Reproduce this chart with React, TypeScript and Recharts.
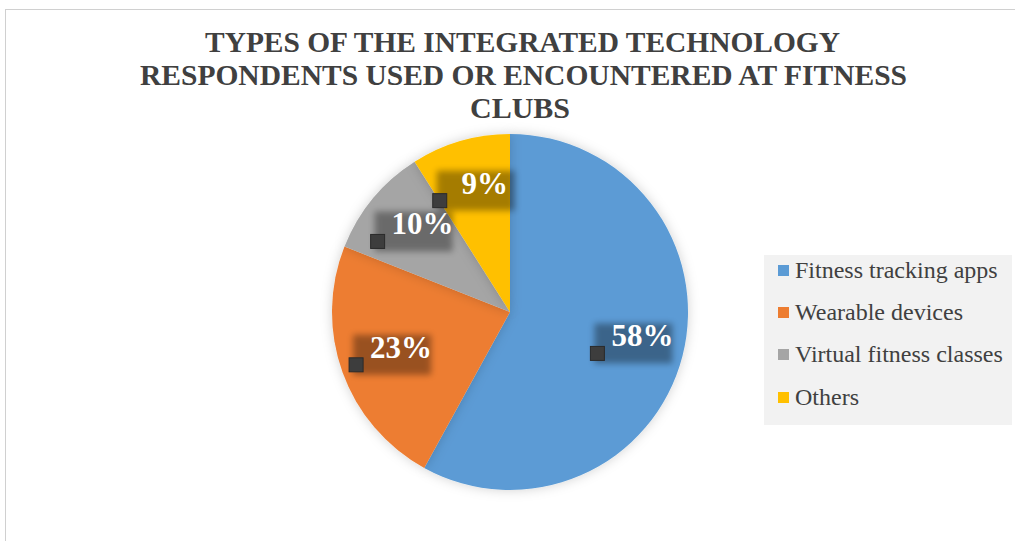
import { PieChart, Pie, Cell, Legend } from "recharts";

const categories = [
  "Fitness tracking apps",
  "Wearable devices",
  "Virtual fitness classes",
  "Others",
];
const shares = [58, 23, 10, 9];
const colors = ["#5b9bd5", "#ed7d31", "#a5a5a5", "#ffc000"];
const titleLines = [
  "TYPES OF THE INTEGRATED TECHNOLOGY",
  "RESPONDENTS USED OR ENCOUNTERED AT FITNESS",
  "CLUBS",
];

const data = categories.map((name, i) => ({ name, value: shares[i] }));

const RADIAN = Math.PI / 180;
const SERIF = "'Liberation Serif', 'Times New Roman', serif";

function renderLabel(props: any) {
  const { cx, cy, midAngle, outerRadius, value, index } = props;
  const r = outerRadius * 0.71;
  const x = cx + r * Math.cos(-midAngle * RADIAN);
  const y = cy + r * Math.sin(-midAngle * RADIAN);
  return (
    <g key={`lbl-${index}`}>
      <rect x={x - 38} y={y - 20} width={78} height={40} fill="#000" opacity={0.35} filter="url(#blurBox)" />
      <rect x={x - 42} y={y + 3} width={14} height={14} fill="#3d3d3d" stroke="#2a2a2a" strokeWidth={1} />
      <text
        x={x + 10}
        y={y + 3}
        textAnchor="middle"
        fill="#ffffff"
        fontFamily={SERIF}
        fontWeight="bold"
        fontSize={31}
      >
        {`${value}%`}
      </text>
    </g>
  );
}

function renderLegend() {
  return (
    <div
      style={{
        background: "#f2f2f2",
        width: 248,
        height: 170,
        boxSizing: "border-box",
        fontFamily: SERIF,
        position: "relative",
      }}
    >
      <div style={{ position: "absolute", left: 0, top: -6 }}>
        {categories.map((c, i) => (
          <div key={c} style={{ display: "flex", alignItems: "center", height: 42.3, paddingLeft: 14 }}>
            <span style={{ width: 11, height: 11, background: colors[i], marginRight: 6, display: "inline-block", flex: "none" }} />
            <span style={{ fontSize: 24, color: "#404040", whiteSpace: "nowrap" }}>{c}</span>
          </div>
        ))}
      </div>
    </div>
  );
}

export default function App() {
  return (
    <div style={{ position: "absolute", left: 0, top: 0, width: 1015, height: 541, overflow: "hidden", background: "#fff" }}>
      <div
        style={{
          position: "absolute",
          left: 5,
          top: 9,
          width: 1100,
          height: 600,
          border: "1px solid #d0d0d0",
        }}
      />
      <svg width={1015} height={130} style={{ position: "absolute", left: 0, top: 0 }}>
        {titleLines.map((t, i) => (
          <text
            key={t}
            x={[205, 140, 470][i]}
            y={52 + i * 33}
            textLength={[635, 767, 100][i]}
            lengthAdjust="spacingAndGlyphs"
            fontFamily={SERIF}
            fontWeight="bold"
            fontSize={29}
            fill="#404040"
          >
            {t}
          </text>
        ))}
      </svg>
      <div style={{ position: "absolute", left: 0, top: 0 }}>
        <PieChart width={1015} height={541} margin={{ top: 0, right: 0, bottom: 0, left: 0 }}>
          <defs>
            <filter id="blurBox" x="-30%" y="-30%" width="160%" height="160%">
              <feGaussianBlur stdDeviation="3" />
            </filter>
            <filter id="pieShadow" x="-20%" y="-20%" width="140%" height="140%">
              <feDropShadow dx="0" dy="0" stdDeviation="6" floodColor="#000" floodOpacity="0.18" />
            </filter>
          </defs>
          <Pie
            data={data}
            dataKey="value"
            nameKey="name"
            cx={510}
            cy={312}
            outerRadius={178}
            startAngle={90}
            endAngle={-270}
            stroke="none"
            label={renderLabel}
            labelLine={false}
            isAnimationActive={false}
            style={{ filter: "url(#pieShadow)" }}
          >
            {data.map((d, i) => (
              <Cell key={d.name} fill={colors[i]} />
            ))}
          </Pie>
          <Legend
            content={renderLegend}
            wrapperStyle={{ position: "absolute", left: 764, top: 255, width: 248, height: 170 }}
          />
        </PieChart>
      </div>
    </div>
  );
}
